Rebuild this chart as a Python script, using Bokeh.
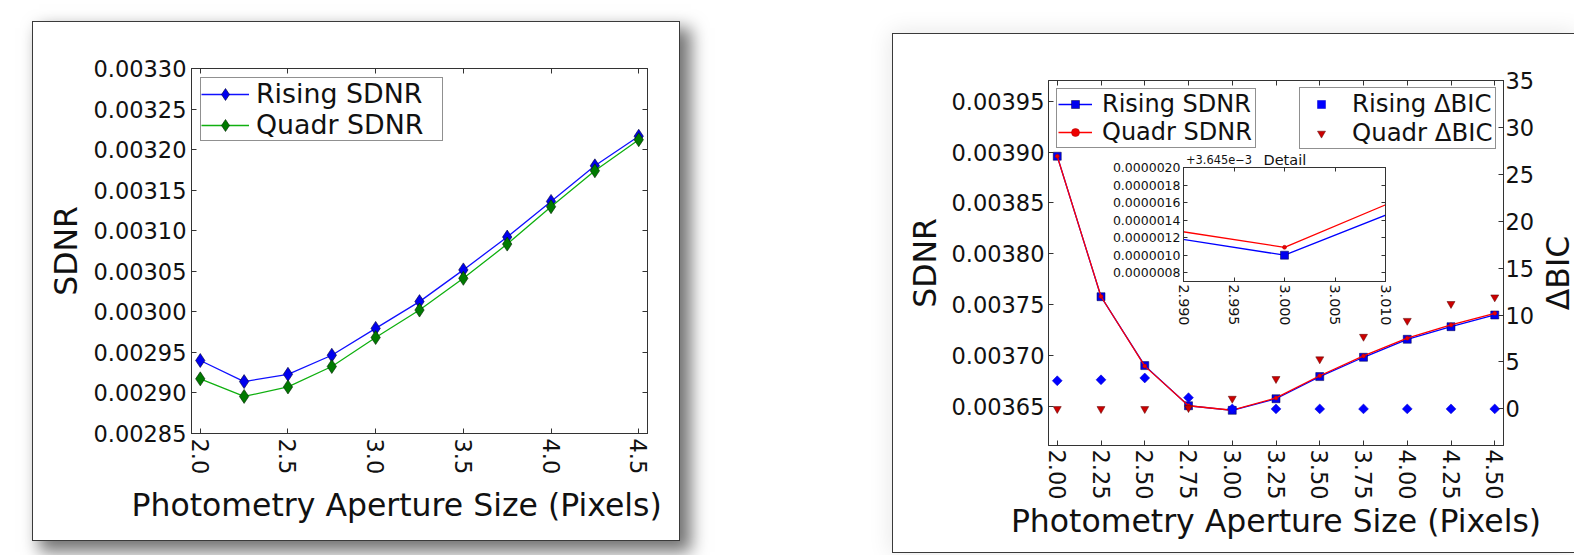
import math
from bokeh.plotting import figure
from bokeh.layouts import row
from bokeh.models import (Range1d, LinearAxis, FixedTicker, PrintfTickFormatter,
                          CustomJSTickFormatter, Legend, LegendItem, Title, Div)
from bokeh.embed import file_html
from bokeh.resources import INLINE

FONT = "DejaVu Sans"
AX = "#333333"
TXT = "#111111"

# ---------------- data ----------------
aperture = [2.0, 2.25, 2.5, 2.75, 3.0, 3.25, 3.5, 3.75, 4.0, 4.25, 4.5]

left_rising_sdnr = [0.0029400, 0.0029140, 0.0029230, 0.0029465, 0.0029796, 0.0030126,
                    0.0030517, 0.0030922, 0.0031361, 0.0031800, 0.0032165]
left_quadr_sdnr = [0.0029174, 0.0028957, 0.0029074, 0.0029326, 0.0029683, 0.0030022,
                   0.0030413, 0.0030835, 0.0031296, 0.0031739, 0.0032122]

right_rising_sdnr = [0.0038960, 0.0037578, 0.0036900, 0.0036505, 0.0036460, 0.0036574,
                     0.0036792, 0.0036982, 0.0037159, 0.0037283, 0.0037398]
right_quadr_sdnr = [0.0038960, 0.0037580, 0.0036895, 0.0036505, 0.00364609, 0.0036582,
                    0.0036800, 0.0036995, 0.0037170, 0.0037300, 0.0037414]
rising_dbic = [3.0, 3.1, 3.3, 1.2, 0.0, 0.0, 0.0, 0.0, 0.0, 0.0, 0.0]
quadr_dbic = [0.0, 0.0, 0.0, 0.1, 1.1, 3.2, 5.3, 7.7, 9.4, 11.2, 11.9]

left_xticks = [2.0, 2.5, 3.0, 3.5, 4.0, 4.5]
left_yticks = [0.00285, 0.00290, 0.00295, 0.00300, 0.00305, 0.00310,
               0.00315, 0.00320, 0.00325, 0.00330]
right_xticks = [2.0, 2.25, 2.5, 2.75, 3.0, 3.25, 3.5, 3.75, 4.0, 4.25, 4.5]
right_yticks = [0.00365, 0.00370, 0.00375, 0.00380, 0.00385, 0.00390, 0.00395]
dbic_ticks = [0, 5, 10, 15, 20, 25, 30, 35]
inset_xticks = [2.990, 2.995, 3.000, 3.005, 3.010]
inset_offset = 0.003645
inset_ytick_offsets = [0.0000008, 0.0000010, 0.0000012, 0.0000014,
                       0.0000016, 0.0000018, 0.0000020]

x_label = "Photometry Aperture Size (Pixels)"

BLANK = "return '';"


def style_axis(ax, size, show_labels=True, tick_in=5, standoff=5):
    ax.major_tick_in = tick_in
    ax.major_tick_out = 0
    ax.minor_tick_in = 0
    ax.minor_tick_out = 0
    ax.major_tick_line_color = AX
    ax.axis_line_color = AX
    ax.major_label_text_font = FONT
    ax.major_label_text_font_size = size if show_labels else "1px"
    ax.major_label_text_color = TXT
    ax.major_label_standoff = standoff if show_labels else 0
    if not show_labels:
        ax.formatter = CustomJSTickFormatter(code=BLANK)
    ax.axis_label_text_font = FONT
    ax.axis_label_text_font_style = "normal"
    ax.axis_label_text_color = TXT


def finish_fig(p):
    p.xgrid.visible = False
    p.ygrid.visible = False
    p.outline_line_color = AX
    p.background_fill_color = "white"
    return p


def base_fig(w, h, xr, yr, left, right, top, bottom):
    p = figure(width=w, height=h, x_range=xr, y_range=yr, output_backend="svg",
               toolbar_location=None, min_border_left=left, min_border_right=right,
               min_border_top=top, min_border_bottom=bottom)
    return finish_fig(p)


def make_legend(items, loc, font_size, margin, padding, glyph_w, glyph_h, standoff, label_w):
    return Legend(items=items, location=loc, margin=margin, padding=padding, spacing=0,
                  glyph_width=glyph_w, glyph_height=glyph_h, label_standoff=standoff,
                  label_width=label_w, label_height=10,
                  label_text_font=FONT, label_text_font_size=font_size,
                  label_text_color=TXT, border_line_color="#222222", border_line_width=1,
                  background_fill_color="white", background_fill_alpha=1)


# ---------------- left panel ----------------
p1 = base_fig(646, 518, Range1d(1.95, 4.55), Range1d(0.00285, 0.00330), 158, 32, 45, 107)
p1.xaxis.ticker = FixedTicker(ticks=left_xticks)
p1.xaxis.formatter = PrintfTickFormatter(format="%.1f")
p1.xaxis.major_label_orientation = "vertical"
p1.yaxis.ticker = FixedTicker(ticks=left_yticks)
p1.yaxis.formatter = PrintfTickFormatter(format="%.5f")
p1.yaxis.axis_label = "SDNR"
for ax in p1.xaxis + p1.yaxis:
    style_axis(ax, "22.5px", standoff=5)
p1.yaxis.axis_label_text_font_size = "31.5px"
p1.yaxis.axis_label_standoff = 6
top1 = LinearAxis(ticker=FixedTicker(ticks=left_xticks))
right1 = LinearAxis(ticker=FixedTicker(ticks=left_yticks))
style_axis(top1, "22.5px", show_labels=False)
style_axis(right1, "22.5px", show_labels=False)
p1.add_layout(top1, "above")
p1.add_layout(right1, "right")
p1.add_layout(Title(text=x_label, align="left", offset=-60, standoff=15,
                    text_font=FONT, text_font_size="31.5px", text_font_style="normal",
                    text_color=TXT), "below")

l1 = p1.line(aperture, left_rising_sdnr, line_color="#1010ff", line_width=1.3)
m1 = p1.scatter(aperture, left_rising_sdnr, marker="diamond", size=14,
                fill_color="#0000ee", line_color="#000033", line_width=0.6)
l2 = p1.line(aperture, left_quadr_sdnr, line_color="#10b010", line_width=1.3)
m2 = p1.scatter(aperture, left_quadr_sdnr, marker="diamond", size=14,
                fill_color="#007a00", line_color="#002200", line_width=0.6)
p1.add_layout(make_legend([LegendItem(label="Rising SDNR", renderers=[l1, m1]),
                           LegendItem(label="Quadr SDNR", renderers=[l2, m2])],
                          "top_left", "26.8px", 9, 0, 48, 30, 7, 186))

# ---------------- right panel ----------------
p2 = base_fig(681, 518, Range1d(1.95, 4.55), Range1d(0.0036114, 0.0039705), 155, 71, 46, 106)
p2.extra_y_ranges = {"dbic": Range1d(-3.9, 35)}
p2.xaxis.ticker = FixedTicker(ticks=right_xticks)
p2.xaxis.formatter = PrintfTickFormatter(format="%.2f")
p2.xaxis.major_label_orientation = "vertical"
p2.xaxis.axis_label = x_label
p2.yaxis.ticker = FixedTicker(ticks=right_yticks)
p2.yaxis.formatter = PrintfTickFormatter(format="%.5f")
p2.yaxis.axis_label = "SDNR"
for ax in p2.xaxis + p2.yaxis:
    style_axis(ax, "22.5px", standoff=4)
p2.xaxis.axis_label_text_font_size = "31.5px"
p2.yaxis.axis_label_text_font_size = "31.5px"
p2.xaxis.axis_label_standoff = 0
p2.yaxis.axis_label_standoff = 5
top2 = LinearAxis(ticker=FixedTicker(ticks=right_xticks))
style_axis(top2, "22.5px", show_labels=False)
p2.add_layout(top2, "above")
right2 = LinearAxis(y_range_name="dbic", ticker=FixedTicker(ticks=dbic_ticks))
style_axis(right2, "22.5px", standoff=2)
p2.add_layout(right2, "right")

r_line = p2.line(aperture, right_rising_sdnr, line_color="#0000ff", line_width=1.3)
r_mark = p2.scatter(aperture, right_rising_sdnr, marker="square", size=8,
                    fill_color="#0000ee", line_color="#000044", line_width=0.5)
q_line = p2.line(aperture, right_quadr_sdnr, line_color="#ff0000", line_width=1.3)
q_mark = p2.scatter(aperture, right_quadr_sdnr, marker="circle", size=4,
                    fill_color="#ee0000", line_color="#aa0000", line_width=0.5)
rb = p2.scatter(aperture, rising_dbic, y_range_name="dbic", marker="square",
                angle=math.pi / 4, size=7, fill_color="#0000ff", line_color="#0000cc",
                line_width=0.5)
qb = p2.scatter(aperture, quadr_dbic, y_range_name="dbic", marker="inverted_triangle",
                size=8, fill_color="#cc0000", line_color="#550000", line_width=0.5)

p2.add_layout(make_legend([LegendItem(label="Rising SDNR", renderers=[r_line, r_mark]),
                           LegendItem(label="Quadr SDNR", renderers=[q_line, q_mark])],
                          "top_left", "24px", 8, 1, 34, 20, 10, 152))
p2.add_layout(make_legend([LegendItem(label="Rising ΔBIC", renderers=[rb]),
                           LegendItem(label="Quadr ΔBIC", renderers=[qb])],
                          "top_right", "24.4px", 7, 1, 40, 20, 11, 142))

# right-axis title, reading bottom-to-top like the original
dbic_label = Div(text="ΔBIC", width=80, height=34, styles={
    "position": "absolute", "left": "1513px", "top": "251px",
    "transform": "rotate(-90deg)", "font-family": FONT, "font-size": "31.5px",
    "color": TXT, "text-align": "center", "line-height": "34px", "z-index": "6"})

# ---------------- inset ----------------
p3 = figure(frame_width=202, frame_height=114, output_backend="svg", toolbar_location=None,
            x_range=Range1d(inset_xticks[0], inset_xticks[-1]),
            y_range=Range1d(inset_offset + 0.0000007, inset_offset + inset_ytick_offsets[-1]),
            min_border_left=78, min_border_right=10, min_border_top=46, min_border_bottom=50)
finish_fig(p3)
p3.border_fill_alpha = 0
inset_yticks = [inset_offset + v for v in inset_ytick_offsets]
p3.xaxis.ticker = FixedTicker(ticks=inset_xticks)
p3.xaxis.formatter = PrintfTickFormatter(format="%.3f")
p3.xaxis.major_label_orientation = "vertical"
p3.yaxis.ticker = FixedTicker(ticks=inset_yticks)
p3.yaxis.formatter = CustomJSTickFormatter(
    args=dict(off=inset_offset), code="return (tick - off).toFixed(7);")
style_axis(p3.xaxis[0], "14.3px", tick_in=4, standoff=3)
style_axis(p3.yaxis[0], "12.5px", tick_in=4, standoff=3)
top3 = LinearAxis(ticker=FixedTicker(ticks=inset_xticks))
right3 = LinearAxis(ticker=FixedTicker(ticks=inset_yticks))
style_axis(top3, "12px", show_labels=False, tick_in=4)
style_axis(right3, "12px", show_labels=False, tick_in=4)
p3.add_layout(top3, "above")
p3.add_layout(right3, "right")
p3.add_layout(Title(text="Detail", align="left", offset=80, standoff=0, text_font=FONT,
                    text_font_size="14.5px", text_font_style="normal", text_color=TXT),
              "above")
p3.line(aperture, right_rising_sdnr, line_color="#0000ff", line_width=1.3)
p3.scatter(aperture, right_rising_sdnr, marker="square", size=8,
           fill_color="#0000ee", line_color="#000044", line_width=0.5)
p3.line(aperture, right_quadr_sdnr, line_color="#ff0000", line_width=1.3)
p3.scatter(aperture, right_quadr_sdnr, marker="circle", size=4,
           fill_color="#ee0000", line_color="#aa0000", line_width=0.5)

offset_label = Div(text="+3.645e\u22123", width=80, height=14, styles={
    "position": "absolute", "left": "1181px", "top": "148px", "font-family": FONT,
    "font-size": "11.4px", "color": TXT, "line-height": "14px", "z-index": "6"})

# ---------------- page layout ----------------
p1.margin = (22, 0, 0, 33)
p2.margin = (34, 0, 0, 214)
p1.styles = {"box-shadow": "0 0 0 1px #3a3a3a, 9px 9px 16px 3px rgba(0,0,0,0.55)"}
p2.styles = {"box-shadow": "0 0 0 1px #3a3a3a, 0 0 22px 2px rgba(0,0,0,0.10)"}
p3.styles = {"position": "absolute", "left": "1105px", "top": "121px", "z-index": "5"}

layout = row(p1, p2, p3, dbic_label, offset_label, spacing=0)

open("out.html", "w").write(file_html(layout, INLINE))
